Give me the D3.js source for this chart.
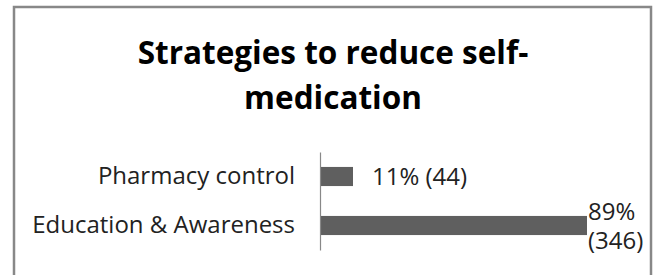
<!DOCTYPE html>
<html>
<head>
<meta charset="utf-8">
<script src="https://cdnjs.cloudflare.com/ajax/libs/d3/7.8.5/d3.min.js"></script>
<style>
  body { margin: 0; background: #fff; }
  svg { display: block; font-family: "Open Sans", sans-serif; }
</style>
</head>
<body>
<svg width="658" height="275"></svg>
<script>
var categories = ["Pharmacy control", "Education & Awareness"];
var percents = [11, 89];
var counts = [44, 346];
var titleLines = ["Strategies to reduce self-", "medication"];

var svg = d3.select("svg"),
    width = +svg.attr("width"),
    height = +svg.attr("height");

// chart frame
svg.append("rect")
    .attr("x", 14)
    .attr("y", 7)
    .attr("width", 637)
    .attr("height", 300)
    .attr("fill", "none")
    .attr("stroke", "#888")
    .attr("stroke-width", 2.5);

svg.append("text")
    .attr("text-anchor", "middle")
    .attr("font-weight", "bold")
    .attr("font-size", 31.5)
    .attr("fill", "#000")
    .selectAll("tspan")
    .data(titleLines)
    .enter().append("tspan")
    .attr("x", 333)
    .attr("y", function(d, i) { return 64 + i * 45; })
    .text(function(d) { return d; });

var x = d3.scaleLinear()
    .domain([0, 100])
    .range([320, 620]);

var y = d3.scaleBand()
    .domain(categories)
    .range([152, 250])
    .paddingInner(0.61)
    .paddingOuter(0.305);

var data = categories.map(function(c, i) {
    return {name: c, pct: percents[i], n: counts[i]};
});

svg.append("g")
    .selectAll("rect")
    .data(data)
    .enter().append("rect")
    .attr("x", x(0))
    .attr("y", function(d) { return y(d.name); })
    .attr("width", function(d) { return x(d.pct) - x(0); })
    .attr("height", y.bandwidth())
    .attr("fill", "#5f5f5f");

var axis = svg.append("g")
    .attr("transform", "translate(" + x(0) + ",0)")
    .call(d3.axisLeft(y).tickSize(0).tickSizeOuter(0).tickPadding(25));
axis.select(".domain").attr("stroke", "#888").attr("stroke-width", 1.2);
axis.selectAll("text")
    .attr("font-size", 24)
    .attr("font-family", "'Open Sans', sans-serif")
    .attr("fill", "#222");

// value labels, wrapped when they run past the frame
var labels = svg.append("g")
    .attr("font-size", 24)
    .attr("fill", "#222");

data.forEach(function(d) {
    var cy = y(d.name) + y.bandwidth() / 2;
    var str = d.pct + "% (" + d.n + ")";
    var t = labels.append("text")
        .attr("x", x(d.pct) + 19)
        .attr("y", cy + 8.5)
        .text(str);
    if (x(d.pct) + 19 + t.node().getComputedTextLength() > 645) {
        t.remove();
        str.split(" ").forEach(function(p, i) {
            labels.append("text")
                .attr("x", x(d.pct) + 1)
                .attr("y", cy - 6 + i * 29)
                .text(p);
        });
    }
});
</script>
</body>
</html>
